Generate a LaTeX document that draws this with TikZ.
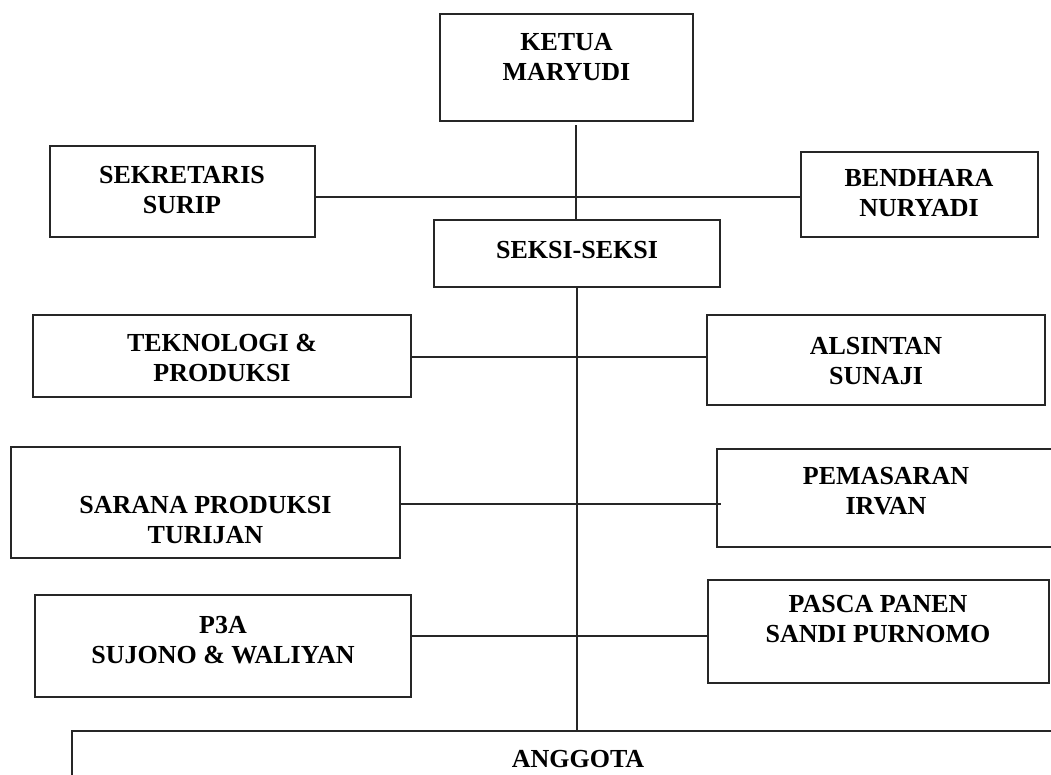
\documentclass[tikz,border=0pt]{standalone}
\usepackage{fontspec}
\setmainfont{Liberation Serif}
\begin{document}
\begin{tikzpicture}[x=1pt,y=-1pt,
  box/.style={draw=black!85, line width=1.4pt, rectangle, inner sep=0pt},
  lbl/.style={inner sep=0pt, align=center, font=\fontsize{26}{30}\selectfont\bfseries},
  conn/.style={draw=black!85, line width=1.3pt}]
\useasboundingbox (0,0) rectangle (1051,774);
\clip (0,0) rectangle (1051,774);
% boxes
\node[box, minimum width=253pt, minimum height=107pt] (ketua) at (566.5,67.5) {};
\node[box, minimum width=265pt, minimum height=91pt] (sek) at (182.5,191.5) {};
\node[box, minimum width=237pt, minimum height=85pt] (bend) at (919.5,194.5) {};
\node[box, minimum width=286pt, minimum height=67pt] (seksi) at (577,253.5) {};
\node[box, minimum width=378pt, minimum height=82pt] (tek) at (222,356) {};
\node[box, minimum width=338pt, minimum height=90pt] (als) at (876,360) {};
\node[box, minimum width=389pt, minimum height=111pt] (sar) at (205.5,502.5) {};
\node[box, minimum width=338pt, minimum height=98pt] (pem) at (886,498) {};
\node[box, minimum width=376pt, minimum height=102pt] (p3a) at (223,646) {};
\node[box, minimum width=341pt, minimum height=103pt] (pasca) at (878.5,631.5) {};
\node[box, minimum width=1010pt, minimum height=80pt] (ang) at (577,771) {};
% texts
\node[lbl] (ketua-t) at (566.5,57) {KETUA\\MARYUDI};
\node[lbl] (sek-t) at (182,190) {SEKRETARIS\\SURIP};
\node[lbl] (bend-t) at (919,193) {BENDHARA\\NURYADI};
\node[lbl] (seksi-t) at (577,250) {SEKSI-SEKSI};
\node[lbl] (tek-t) at (222,358) {TEKNOLOGI \&\\PRODUKSI};
\node[lbl] (als-t) at (876,361) {ALSINTAN\\SUNAJI};
\node[lbl] (sar-t) at (205.5,520) {SARANA PRODUKSI\\TURIJAN};
\node[lbl] (pem-t) at (886,491) {PEMASARAN\\IRVAN};
\node[lbl] (p3a-t) at (223,640) {P3A\\SUJONO \& WALIYAN};
\node[lbl] (pasca-t) at (878,619) {PASCA PANEN\\SANDI PURNOMO};
\node[lbl] (ang-t) at (578,759) {ANGGOTA};
% connectors
\coordinate (top) at (576,125);
\coordinate (hl) at (0,197);
\coordinate (l1) at (0,357);
\coordinate (l2) at (0,504);
\coordinate (l3) at (0,636);
\draw[conn] (top) -- (top |- seksi.north);
\draw[conn] (sek.east |- hl) -- (bend.west |- hl);
\draw[conn] (seksi.south) -- (seksi.south |- ang.north);
\draw[conn] (tek.east |- l1) -- (als.west |- l1);
\draw[conn] (sar.east |- l2) -- ([xshift=5pt]pem.west |- l2);
\draw[conn] (p3a.east |- l3) -- (pasca.west |- l3);
\end{tikzpicture}
\end{document}
